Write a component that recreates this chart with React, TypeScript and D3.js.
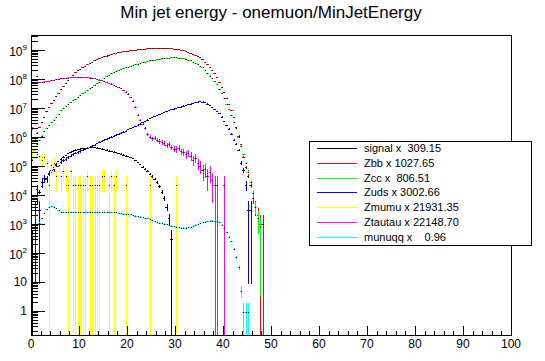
import React from "react";
import * as d3 from "d3";

// ---- data: log10 of bin content, bins of width 0.5 starting at 0 ----
const binWidth = 0.5;
const xTicks = [0, 10, 20, 30, 40, 50, 60, 70, 80, 90, 100];

const signalLog = [2.49, 3.3, 3.8, 4.1, 4.3, 4.45, 4.6, 4.72, 4.85, 4.97, 5.08, 5.17, 5.25, 5.32, 5.38, 5.44, 5.49, 5.53, 5.56, 5.58, 5.6, 5.61, 5.62, 5.63, 5.64, 5.64, 5.64, 5.63, 5.62, 5.6, 5.58, 5.56, 5.53, 5.51, 5.49, 5.47, 5.45, 5.42, 5.39, 5.36, 5.33, 5.3, 5.26, 5.2, 5.13, 5.06, 4.98, 4.9, 4.82, 4.73, 4.64, 4.55, 4.44, 4.3, 4.12, 3.9, 3.6, 3.2, 2.49];

const zbbLog = [5.5, 5.9, 6.15, 6.33, 6.5, 6.68, 6.88, 7.03, 7.16, 7.28, 7.4, 7.52, 7.65, 7.76, 7.87, 7.97, 8.06, 8.15, 8.23, 8.3, 8.35, 8.4, 8.45, 8.5, 8.55, 8.6, 8.65, 8.69, 8.72, 8.75, 8.78, 8.81, 8.84, 8.86, 8.88, 8.9, 8.92, 8.94, 8.95, 8.97, 8.98, 8.99, 9.0, 9.01, 9.02, 9.03, 9.04, 9.05, 9.06, 9.06, 9.07, 9.07, 9.08, 9.08, 9.08, 9.08, 9.07, 9.07, 9.06, 9.05, 9.04, 9.03, 9.01, 8.99, 8.96, 8.93, 8.9, 8.87, 8.84, 8.8, 8.75, 8.68, 8.6, 8.52, 8.43, 8.32, 8.2, 8.06, 7.9, 7.73, 7.55, 7.35, 7.15, 6.93, 6.7, 6.35, 6.05, 5.75, 5.3, 4.95, 4.65, 4.35, 3.9, 3.6, 3.31, 3.01, 3.01];

const zccLog = [5.2, 5.55, 5.76, 5.9, 6.05, 6.2, 6.3, 6.4, 6.5, 6.6, 6.7, 6.8, 6.92, 7.0, 7.07, 7.13, 7.2, 7.26, 7.32, 7.38, 7.44, 7.5, 7.56, 7.62, 7.68, 7.73, 7.79, 7.85, 7.91, 7.97, 8.03, 8.09, 8.15, 8.2, 8.24, 8.27, 8.3, 8.33, 8.37, 8.4, 8.42, 8.45, 8.48, 8.51, 8.53, 8.56, 8.58, 8.6, 8.62, 8.64, 8.66, 8.67, 8.69, 8.7, 8.71, 8.72, 8.73, 8.74, 8.75, 8.75, 8.75, 8.74, 8.73, 8.71, 8.69, 8.67, 8.65, 8.6, 8.55, 8.5, 8.46, 8.4, 8.32, 8.22, 8.12, 8.02, 7.92, 7.82, 7.65, 7.5, 7.33, 7.15, 6.95, 6.75, 6.52, 6.3, 6.0, 5.7, 5.4, 5.12, 4.8, 4.45, 4.07, 3.6, 3.2, 2.91];

const zudsLog = [null, 3.48, 4.2, 3.48, 4.45, 4.6, 4.55, 4.75, 4.85, 4.9, 5.05, 5.0, 5.15, 5.2, 5.25, 5.3, 5.35, 5.4, 5.45, 5.47, 5.5, 5.55, 5.6, 5.62, 5.66, 5.7, 5.74, 5.78, 5.82, 5.86, 5.9, 5.93, 5.96, 6.0, 6.04, 6.07, 6.11, 6.14, 6.18, 6.22, 6.26, 6.3, 6.34, 6.38, 6.42, 6.46, 6.5, 6.55, 6.6, 6.64, 6.68, 6.71, 6.75, 6.78, 6.82, 6.86, 6.89, 6.92, 6.95, 6.98, 7.0, 7.03, 7.05, 7.08, 7.1, 7.13, 7.15, 7.18, 7.2, 7.22, 7.23, 7.22, 7.19, 7.15, 7.1, 7.03, 6.96, 6.9, 6.82, 6.7, 6.55, 6.4, 6.28, 6.12, 5.9, 5.75, 5.55, 5.1, 4.85, 4.35, 3.48, 3.48];

const zmumuLog = [5.49, 5.6, 5.42, 5.34, 5.19, 5.3, 5.12, 4.34, 5.04, 5.12, 4.64, 5.04, 4.64, 4.82, 4.64, 4.34, 4.82, 4.34, 4.34, 4.34, 4.34, 4.34, 4.34, 4.64, 4.34, 4.34, 4.34, 4.34, 4.34, 4.64, 4.64, null, 4.34, 4.64, 4.34, 4.64, null, null, null, 4.34, null, null, null, null, null, null, null, null, null, 4.34, null, null, null, null, null, null, null, null, null, null, 4.34];

const ztautauLog = [6.3, 8.3, 8.1, 7.9, 7.9, 7.91, 7.93, 7.94, 7.96, 7.97, 7.99, 8.0, 8.02, 8.03, 8.04, 8.05, 8.06, 8.06, 8.07, 8.07, 8.07, 8.07, 8.06, 8.06, 8.05, 8.04, 8.02, 8.0, 7.98, 7.96, 7.93, 7.9, 7.87, 7.84, 7.8, 7.76, 7.72, 7.68, 7.62, 7.56, 7.49, 7.38, 7.25, 7.05, 6.75, 6.6, 6.45, 6.3, 6.1, 6.0, 5.95, 5.98, 5.9, 5.85, 5.82, 5.78, 5.72, 5.75, 5.65, 5.6, 5.58, 5.62, 5.5, 5.47, 5.4, 5.45, 5.35, 5.2, 5.28, 5.1, 5.0, 4.85, 4.9, 4.65, 4.8, 4.5, 4.34, 4.34, null, null, 4.34];

const munuqqLog = [2.6, 2.85, 2.95, 3.05, 3.2, 3.38, 3.5, 3.58, 3.62, 3.6, 3.55, 3.48, 3.43, 3.41, 3.4, 3.4, 3.4, 3.4, 3.41, 3.41, 3.41, 3.42, 3.42, 3.42, 3.43, 3.42, 3.42, 3.43, 3.42, 3.42, 3.42, 3.43, 3.42, 3.41, 3.41, 3.4, 3.39, 3.38, 3.36, 3.35, 3.34, 3.33, 3.31, 3.29, 3.27, 3.25, 3.23, 3.21, 3.19, 3.16, 3.13, 3.1, 3.08, 3.05, 3.03, 3.01, 2.99, 2.96, 2.94, 2.92, 2.9, 2.88, 2.87, 2.87, 2.87, 2.88, 2.9, 2.93, 2.97, 3.0, 3.03, 3.06, 3.08, 3.1, 3.11, 3.12, 3.12, 3.1, 3.06, 2.98, 2.85, 2.72, 2.55, 2.4, 2.15, 1.85, 1.5, 0.7, -0.02, -0.02, -0.02];

const seriesNames = ["signal", "Zbb", "Zcc", "Zuds", "Zmumu", "Ztautau", "munuqq"];
const seriesScales = [309.15, 1027.65, 806.51, 3002.66, 21931.35, 22148.7, 0.96];
const seriesLabels = ["signal x  309.15", "Zbb x 1027.65", "Zcc x  806.51", "Zuds x 3002.66", "Zmumu x 21931.35", "Ztautau x 22148.70", "munuqq x    0.96"];
const seriesColors = ["#000000", "#ff0000", "#00ff00", "#0000ff", "#ffff00", "#ff00ff", "#00ffff"];
const seriesData = [signalLog, zbbLog, zccLog, zudsLog, zmumuLog, ztautauLog, munuqqLog];

const W = 545, H = 361;
const FL = 31, FR = 511, FT = 35, FB = 335;
const FONT = "'Liberation Sans', Arial, Helvetica, sans-serif";

export default function App() {
  const x = d3.scaleLinear().domain([0, 100]).range([FL, FR]);
  const yMin = Math.pow(10, -0.8276), yMax = Math.pow(10, 9.517);
  const y = d3.scaleLog().domain([yMin, yMax]).range([FB, FT]);

  const hists = seriesData.map((arr, si) => {
    const w = seriesScales[si];
    let lines = "";
    let marks = "";
    arr.forEach((l, i) => {
      if (l === null || l === undefined) return;
      const v = Math.pow(10, l);
      const e = Math.sqrt(v * w);
      const x0 = x(i * binWidth), x1 = x((i + 1) * binWidth), xc = x((i + 0.5) * binWidth);
      const yc = y(v);
      const lo = v - e;
      const yl = lo > yMin ? y(lo) : FB;
      const yh = Math.max(y(Math.min(v + e, yMax)), FT);
      const ycr = Math.round(yc) + 0.5;
      const xcr = Math.round(xc) + 0.5;
      lines += `M${x0.toFixed(2)},${ycr}H${x1.toFixed(2)}`;
      lines += `M${xcr},${yl.toFixed(2)}V${yh.toFixed(2)}`;
      marks += `M${Math.round(xc)},${Math.round(yc)}h1v1h-1z`;
    });
    return (
      <g key={seriesNames[si]}>
        <path d={lines} stroke={seriesColors[si]} strokeWidth={1} fill="none" shapeRendering="crispEdges" />
        <path d={marks} fill="#000" shapeRendering="crispEdges" />
      </g>
    );
  });

  const yTickEls: any[] = [];
  const yLabelEls: any[] = [];
  for (let d = -1; d <= 9; d++) {
    for (let k = 1; k <= 9; k++) {
      const v = k * Math.pow(10, d);
      if (v < yMin || v > yMax) continue;
      const py = Math.round(y(v)) + 0.5;
      const len = k === 1 ? 14 : 7;
      yTickEls.push(<line key={`yt${d}_${k}`} x1={FL} x2={FL + len} y1={py} y2={py} stroke="#000" strokeWidth={1} shapeRendering="crispEdges" />);
      if (k === 1) {
        const ty = y(v);
        if (d === 0) {
          yLabelEls.push(<text key={`yl${d}`} x={27} y={ty + 4.5} textAnchor="end" fontSize={12} fontFamily={FONT}>1</text>);
        } else if (d === 1) {
          yLabelEls.push(<text key={`yl${d}`} x={27} y={ty + 4.5} textAnchor="end" fontSize={12} fontFamily={FONT}>10</text>);
        } else {
          yLabelEls.push(
            <text key={`yl${d}`} x={27} y={ty + 6} textAnchor="end" fontSize={12} fontFamily={FONT}>
              10<tspan dy={-6} fontSize={8}>{d}</tspan>
            </text>
          );
        }
      }
    }
  }

  const xTickEls: any[] = [];
  for (let t = 0; t <= 100; t += 2) {
    const px = Math.round(x(t)) + 0.5;
    const major = t % 10 === 0;
    xTickEls.push(<line key={`xt${t}`} x1={px} x2={px} y1={FB} y2={FB - (major ? 9 : 4.5)} stroke="#000" strokeWidth={1} shapeRendering="crispEdges" />);
  }
  const xLabelEls = xTicks.map((t) => (
    <text key={`xl${t}`} x={x(t)} y={348} textAnchor="middle" fontSize={12} fontFamily={FONT}>{t}</text>
  ));

  const legX = 309.5, legY = 141.5, legW = 222, legH = 104;
  const legendEls = seriesLabels.map((lab, i) => {
    const ry = 148.3 + i * 14.7;
    return (
      <g key={`lg${i}`}>
        <line x1={316.5} x2={356.5} y1={Math.round(ry) + 0.5} y2={Math.round(ry) + 0.5} stroke={seriesColors[i]} strokeWidth={1} shapeRendering="crispEdges" />
        <text x={364} y={ry + 4} fontSize={11} fontFamily={FONT} style={{ whiteSpace: "pre" }}>{lab}</text>
      </g>
    );
  });

  return (
    <svg width={W} height={H} style={{ position: "absolute", left: 0, top: 0, background: "#fff" }} xmlns="http://www.w3.org/2000/svg">
      <rect x={0} y={0} width={W} height={H} fill="#fff" />
      <text x={271} y={18} textAnchor="middle" fontSize={17} fontFamily={FONT}>Min jet energy - onemuon/MinJetEnergy</text>
      <clipPath id="frameclip"><rect x={FL} y={FT} width={FR - FL} height={FB - FT} /></clipPath>
      <g clipPath="url(#frameclip)">{hists}</g>
      <rect x={FL + 0.5} y={FT + 0.5} width={FR - FL} height={FB - FT} fill="none" stroke="#000" strokeWidth={1} shapeRendering="crispEdges" />
      {yTickEls}
      {yLabelEls}
      {xTickEls}
      {xLabelEls}
      <rect x={legX} y={legY} width={legW} height={legH} fill="#fff" stroke="#000" strokeWidth={1} shapeRendering="crispEdges" />
      {legendEls}
    </svg>
  );
}
